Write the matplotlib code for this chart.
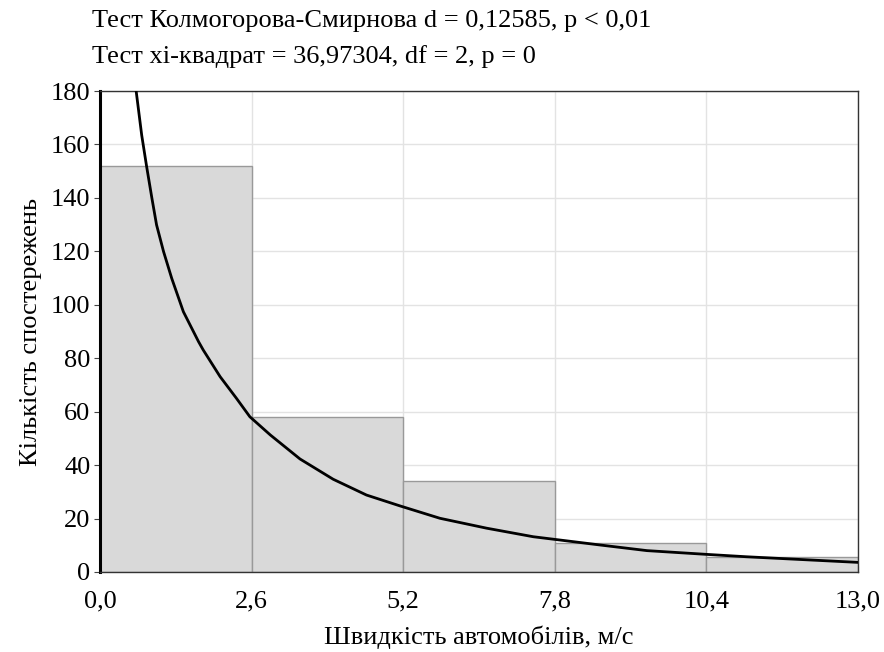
import matplotlib
matplotlib.use('Agg')
import matplotlib.pyplot as plt
from matplotlib.ticker import FuncFormatter

plt.rcParams['font.family'] = ['Liberation Serif', 'DejaVu Serif']

# histogram bins and counts
bin_edges = [0.0, 2.6, 5.2, 7.8, 10.4, 13.0]
counts = [152, 58, 34, 11, 5.5]

# fitted curve
curve_x = [0.62, 0.715, 0.80, 0.89, 0.97, 1.09, 1.23, 1.43, 1.69, 1.77, 2.06,
           2.34, 2.57, 2.92, 3.43, 4.00, 4.57, 5.15, 5.83, 6.63, 7.43, 8.58,
           9.38, 10.40, 11.09, 11.95, 13.0]
curve_y = [180, 163.5, 151.7, 139.9, 129.9, 119.9, 109.9, 97.4, 86.2, 83.1, 73.1,
           65.0, 58.1, 51.3, 42.3, 34.7, 28.8, 24.7, 20.1, 16.4, 13.2, 10.1,
           8.0, 6.6, 5.7, 4.75, 3.6]

x_ticks = [0.0, 2.6, 5.2, 7.8, 10.4, 13.0]
y_ticks = list(range(0, 181, 20))

fig = plt.figure(figsize=(8.84, 6.52), dpi=100)
ax = fig.add_axes([100 / 884, 1 - 572 / 652, 758 / 884, 481 / 652])

widths = [bin_edges[i + 1] - bin_edges[i] for i in range(len(counts))]
ax.bar(bin_edges[:-1], counts, width=widths, align='edge',
       color='#d9d9d9', edgecolor='#999999', linewidth=1, zorder=2)
ax.plot(curve_x, curve_y, color='black', linewidth=2, zorder=3)

ax.set_xlim(0, 13)
ax.set_ylim(0, 180)
ax.set_xticks(x_ticks)
ax.set_yticks(y_ticks)
ax.xaxis.set_major_formatter(FuncFormatter(lambda v, p: f'{v:.1f}'.replace('.', ',')))
ax.grid(True, color='#e3e3e3', linewidth=1, zorder=0)
ax.set_axisbelow(True)
ax.tick_params(labelsize=19, length=4, color='#444444')
ax.tick_params(axis='x', direction='in', pad=13)
ax.tick_params(axis='y', pad=3)

for s in ['top', 'right', 'bottom']:
    ax.spines[s].set_color('#333333')
    ax.spines[s].set_linewidth(1)
ax.spines['left'].set_linewidth(2.2)
ax.spines['left'].set_color('black')

ax.set_xlabel('Швидкість автомобілів, м/с', fontsize=19, labelpad=10)
ax.set_ylabel('Кількість спостережень', fontsize=19, labelpad=6)

fig.text(92 / 884, 1 - 21 / 652, 'Тест Колмогорова-Смирнова d = 0,12585, p < 0,01',
         fontsize=19, va='center', ha='left')
fig.text(92 / 884, 1 - 57 / 652, 'Тест xi-квадрат = 36,97304, df = 2, p = 0',
         fontsize=19, va='center', ha='left')

fig.savefig('out.png', dpi=100)
